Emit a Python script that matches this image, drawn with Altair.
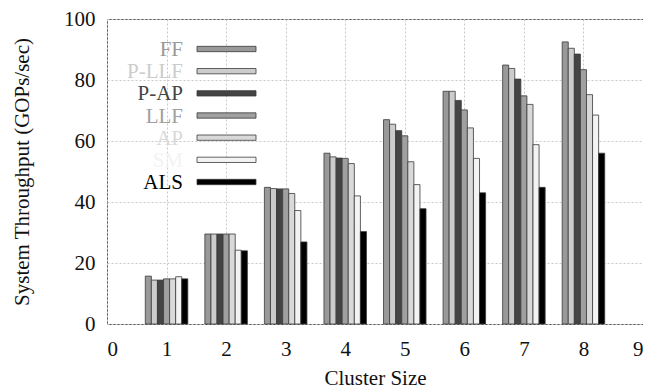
import altair as alt
import pandas as pd

clusters = [1, 2, 3, 4, 5, 6, 7, 8]
series = ["FF", "P-LLF", "P-AP", "LLF", "AP", "SM", "ALS"]
colors = ["#999999", "#cccccc", "#444444", "#a0a0a0", "#d9d9d9", "#f3f3f3", "#000000"]

values = {
    "FF":    [15.7, 29.5, 44.8, 56.0, 67.0, 76.3, 84.9, 92.5],
    "P-LLF": [14.4, 29.5, 44.4, 54.8, 65.5, 76.3, 83.8, 90.4],
    "P-AP":  [14.4, 29.5, 44.3, 54.4, 63.4, 73.3, 80.3, 88.5],
    "LLF":   [14.8, 29.5, 44.3, 54.3, 61.7, 70.2, 74.8, 83.4],
    "AP":    [14.8, 29.5, 42.8, 52.6, 53.2, 64.3, 72.0, 75.2],
    "SM":    [15.5, 24.2, 37.2, 42.0, 45.7, 54.3, 58.8, 68.5],
    "ALS":   [14.8, 24.0, 26.9, 30.3, 37.8, 43.0, 44.8, 56.0],
}

rows = []
for i, s in enumerate(series):
    for c, v in zip(clusters, values[s]):
        rows.append({"cluster": c, "series": s, "idx": i, "value": v})
df = pd.DataFrame(rows)
leg = pd.DataFrame({"series": series, "idx": list(range(len(series)))})

FONT = "Liberation Serif"
FS = 21
bw = 0.102

color_scale = alt.Scale(domain=series, range=colors)

bars = alt.Chart(df).transform_calculate(
    x0=f"datum.cluster + (datum.idx - 3.5) * {bw}",
    x1=f"datum.cluster + (datum.idx - 2.5) * {bw}",
).mark_bar(stroke="#3a3a3a", strokeWidth=0.8).encode(
    x=alt.X("x0:Q", scale=alt.Scale(domain=[0, 9], nice=False),
            axis=alt.Axis(values=list(range(10)), title="Cluster Size", format="d",
                          labelFont=FONT, labelFontSize=FS, titleFont=FONT, titleFontSize=FS,
                          labelPadding=14, titlePadding=8)),
    x2="x1:Q",
    y=alt.Y("value:Q", scale=alt.Scale(domain=[0, 100]),
            axis=alt.Axis(values=[0, 20, 40, 60, 80, 100], title="System Throughput (GOPs/sec)",
                          labelFont=FONT, labelFontSize=FS, titleFont=FONT, titleFontSize=FS,
                          labelPadding=12, titlePadding=31)),
    y2=alt.Y2(datum=0),
    color=alt.Color("series:N", scale=color_scale, legend=None),
)

leg_scale = alt.Scale(domain=[0, 6], range=[30, 163])

leg_text = alt.Chart(leg).mark_text(
    align="right", baseline="middle", font=FONT, fontSize=FS, dy=1
).encode(
    x=alt.value(76),
    y=alt.Y("idx:Q", scale=leg_scale, axis=None),
    text="series:N",
    color=alt.Color("series:N", scale=color_scale, legend=None),
)

leg_bars = alt.Chart(leg).transform_calculate(
    ya="datum.idx - 0.12", yb="datum.idx + 0.12"
).mark_rect(stroke="#3a3a3a", strokeWidth=0.8).encode(
    x=alt.value(90),
    x2=alt.value(149),
    y=alt.Y("ya:Q", scale=leg_scale, axis=None),
    y2="yb:Q",
    color=alt.Color("series:N", scale=color_scale, legend=None),
)

legend = alt.layer(leg_text, leg_bars)

chart = alt.layer(bars, legend).resolve_scale(y="independent").properties(
    width=536, height=305, padding={"left": 3, "top": 0, "right": 0, "bottom": 0}
).configure_view(stroke="#555555", strokeWidth=1).configure_axis(
    labelColor="#111111", titleColor="#111111", titleFontWeight="normal",
    grid=True, gridColor="#c8c8c8", gridDash=[2, 2], gridWidth=1,
    ticks=False, domain=False,
)

chart.save("out.html", embed_options={"renderer": "svg", "actions": False})
